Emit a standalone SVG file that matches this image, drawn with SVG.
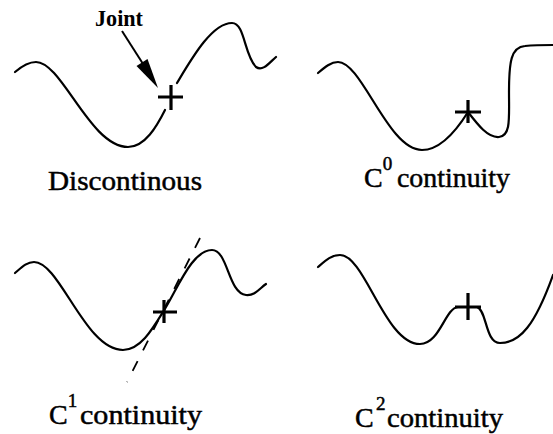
<svg xmlns="http://www.w3.org/2000/svg" width="553" height="434" viewBox="0 0 553 434">
<style>
.curve{fill:none;stroke:#000;stroke-width:2.2;stroke-linecap:round;stroke-linejoin:round}
.cross{fill:none;stroke:#000;stroke-width:3.2}
.lbl{font-family:"Liberation Serif","Times New Roman",serif;font-size:28px;fill:#000;stroke:#000;stroke-width:0.5}
.sup{font-size:19px}
.joint{font-family:"Liberation Serif","Times New Roman",serif;font-size:23px;font-weight:bold;fill:#000}
.tan{fill:none;stroke:#000;stroke-width:1.8;stroke-dasharray:11 12}
</style>
<rect width="553" height="434" fill="#fff"/>

<g id="discontinuous">
<path class="curve" d="M15,72 C22,66 28,62 36,62 C62,62 90,147 128,147 C145,147 157,126 165,110"/>
<path class="curve" d="M177,83 C192,58 212,23 232,23 C245,23 244,55 256,67 C263,72 270,62 276,57"/>
<path class="cross" d="M158,97 H183 M171,85 V110"/>
<text class="lbl" x="48" y="190" textLength="154" lengthAdjust="spacingAndGlyphs">Discontinous</text>
</g>

<g id="joint-label">
<text class="joint" x="95" y="26" textLength="48" lengthAdjust="spacingAndGlyphs">Joint</text>
</g>

<g id="c0">
<path class="curve" d="M318,73 C325,67 331,62 338,62 C362,62 388,150 422,150 C442,150 458,128 468,112 C478,125 488,138 499,137 C511,136 509,118 509,92 C509,62 511,47 525,46 C535,45 545,45 553,45"/>
<path class="cross" d="M455,112 H481 M468,100 V123"/>
<text class="lbl" x="364" y="187">C<tspan class="sup" dy="-17">0</tspan><tspan dy="17" x="397" textLength="113" lengthAdjust="spacingAndGlyphs">continuity</tspan></text>
</g>

<g id="c1">
<path class="curve" d="M15,273 C22,267 27,262 34,262 C60,262 85,350 123,350 C140,350 152,330 163,312 C178,288 192,250 212,250 C228,250 228,293 246,295 C255,296 260,288 266,284"/>
<path class="cross" d="M153,312 H177 M164,300 V323"/>
<text class="lbl" x="49" y="424">C<tspan class="sup" dy="-17">1</tspan><tspan dy="17" x="80" textLength="122" lengthAdjust="spacingAndGlyphs">continuity</tspan></text>
</g>

<g id="c2">
<path class="curve" d="M318,267 C325,261 331,255 340,255 C365,255 385,344 420,344 C440,344 445,308 458,307 L477,307 C487,310 485,343 500,343 C520,343 535,325 553,275"/>
<path class="cross" d="M455,307 H481 M468,293 V320"/>
<text class="lbl" x="355" y="427">C<tspan class="sup" dy="-17" x="376">2</tspan><tspan dy="17" x="387" textLength="116" lengthAdjust="spacingAndGlyphs">continuity</tspan></text>
</g>

<g id="connectors">
<line x1="122" y1="31" x2="145" y2="67" stroke="#000" stroke-width="2"/>
<path d="M158,88 L136.5,66.1 L147.5,59.1 Z" fill="#000"/>
<line class="tan" x1="200" y1="238" x2="127" y2="382"/>
</g>
</svg>
